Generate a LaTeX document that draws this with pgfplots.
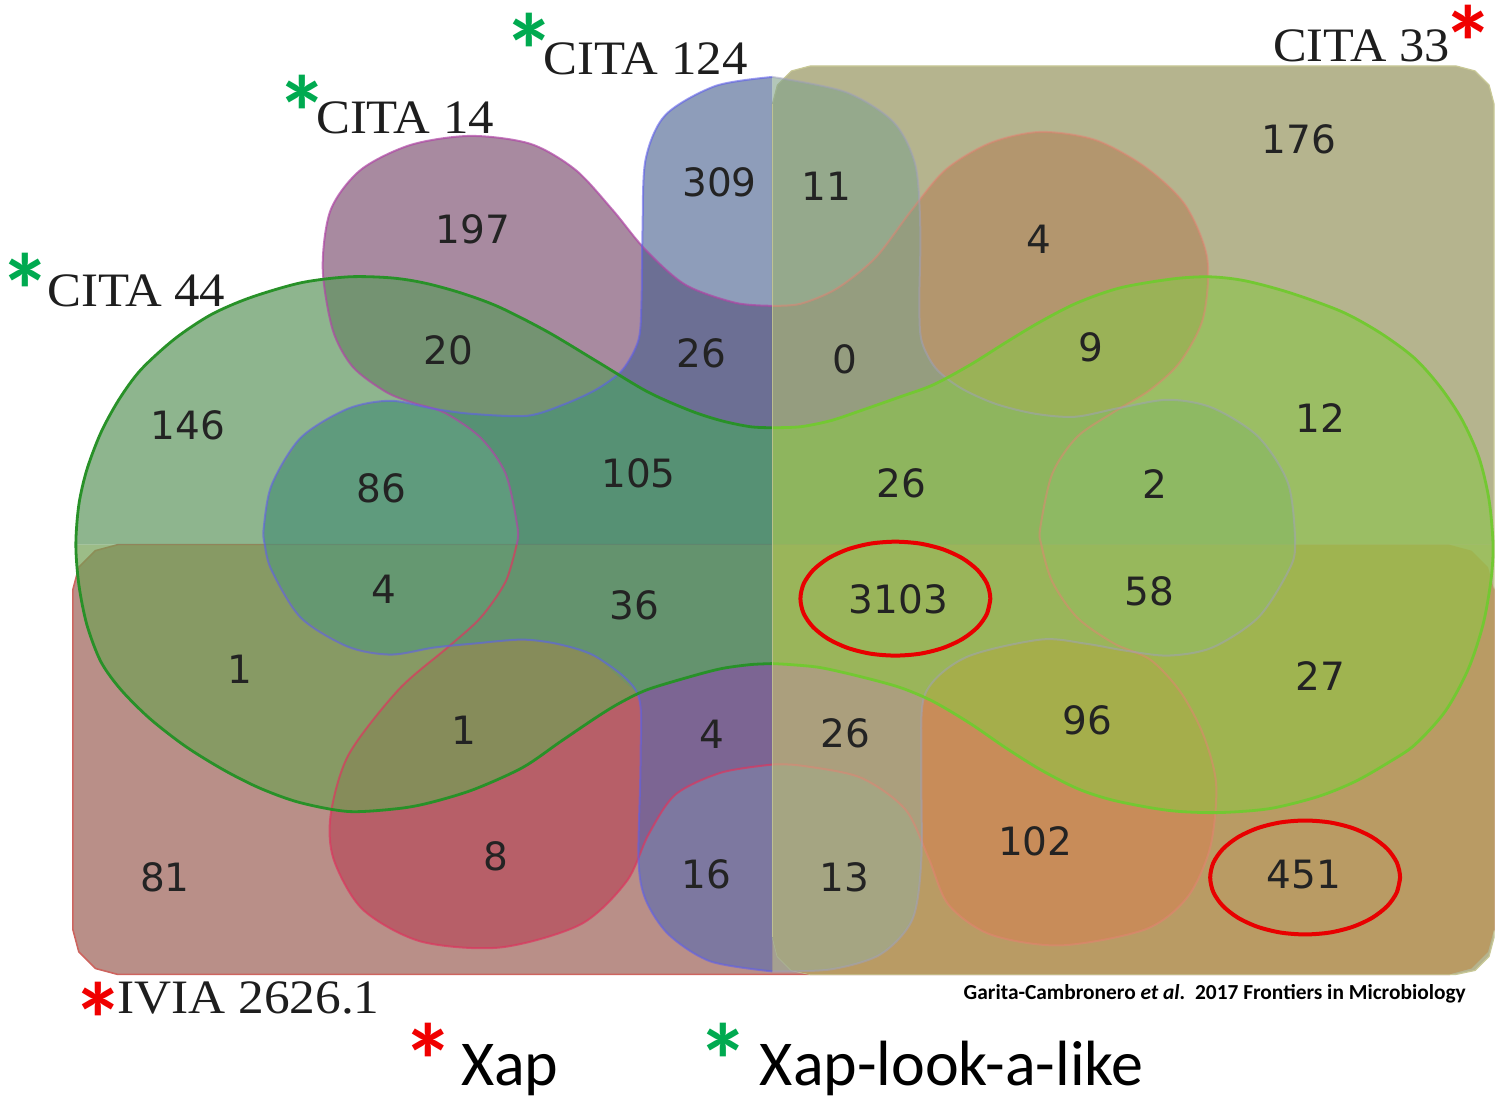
\documentclass[border=0pt]{standalone}
\usepackage{fontspec}
\usepackage{pgfplots}
\pgfplotsset{compat=1.18}
\setmainfont{Liberation Serif}
\newfontfamily\numfont{DejaVu Sans}
\newfontfamily\calib{Carlito}
\definecolor{Ecol}{RGB}{185,143,136}
\definecolor{Dcol}{RGB}{181,180,142}
\definecolor{DEcol}{RGB}{185,155,100}
\definecolor{Eedge}{RGB}{205,100,95}
\definecolor{Dedge}{RGB}{200,200,150}
\definecolor{BTL}{RGB}{110,60,97}
\definecolor{BTR}{RGB}{179,130,89}
\definecolor{BBL}{RGB}{182,63,84}
\definecolor{BBR}{RGB}{210,130,83}
\definecolor{CTL}{RGB}{68,93,140}
\definecolor{CTR}{RGB}{129,163,139}
\definecolor{CBL}{RGB}{85,105,176}
\definecolor{CBR}{RGB}{152,172,150}
\definecolor{ATL}{RGB}{95,151,95}
\definecolor{ATR}{RGB}{138,197,72}
\definecolor{ABL}{RGB}{114,160,85}
\definecolor{ABR}{RGB}{143,197,67}
\definecolor{ACteal}{RGB}{40,170,140}
\definecolor{Aedge}{RGB}{40,145,40}
\definecolor{AedgeR}{RGB}{115,200,50}
\definecolor{BedgeTL}{RGB}{175,70,165}
\definecolor{BedgeBL}{RGB}{220,55,95}
\definecolor{BedgeR}{RGB}{230,130,115}
\definecolor{CedgeL}{RGB}{95,95,235}
\definecolor{CedgeR}{RGB}{160,160,190}
\definecolor{numcol}{RGB}{35,35,35}
\definecolor{lblcol}{RGB}{30,30,30}
\definecolor{agreen}{RGB}{0,170,80}
\definecolor{ared}{RGB}{240,0,0}
\definecolor{ringred}{RGB}{232,0,0}
\newcommand{\nm}[3]{\node[font=\numfont\fontsize{19.5}{20}\selectfont, text=numcol, inner sep=0pt] at (axis cs:#1,#2) {#3};}
% asterisk: node centre placed 21 units below the glyph centre
\newcommand{\astk}[3]{\node[font=\calib\bfseries\fontsize{52}{52}\selectfont, text=#3, inner sep=0pt, anchor=center] at (axis cs:#1,#2) {*};}
\begin{document}
\begin{tikzpicture}
\begin{axis}[scale only axis, width=747.5pt, height=550.5pt,
  xmin=0, xmax=1495, ymin=0, ymax=1101, y dir=reverse, hide axis, clip=false]
% background
\addplot[draw=none, fill=white] coordinates {(0,0) (1495,0) (1495,1101) (0,1101)};
% IVIA 2626.1 (E)
\addplot[draw=Eedge, line width=0.8pt, fill=Ecol] coordinates {(72,590) (78,567.5) (94.5,551) (117,545) (1449,545) (1471.5,551) (1488,567.5) (1494,590) (1494,930) (1488,952.5) (1471.5,969) (1449,975) (117,975) (94.5,969) (78,952.5) (72,930) (72,590)};
% CITA 33 (D)
\addplot[draw=Dedge, line width=0.6pt, fill=Dcol] coordinates {(772,104) (777,85) (791,71) (810,66) (1456,66) (1475,71) (1489,85) (1494,104) (1494,938) (1489,957) (1475,971) (1456,975) (810,975) (791,971) (777,957) (772,938) (772,104)};
% D and E
\addplot[draw=none, fill=DEcol] coordinates {(772,545) (1449,545) (1471.5,551) (1488,567.5) (1494,590) (1494,930) (1488,952.5) (1471.5,969) (1449,975) (810,975) (791,971) (777,957) (772,938)};
% CITA 14 (B)
\addplot[smooth, draw=none, fill=BTL, fill opacity=0.6] coordinates {(516,545) (517,528) (505,474) (480,438) (444,413) (412,403) (385,392) (352,367) (332,330) (322,268) (330,210) (360,170) (410,145) (470,136) (530,144) (575,170) (612,210) (645,250) (685,285) (735,303) (772,306)} -- (772,545) -- cycle;
\addplot[smooth, draw=none, fill=BTR, fill opacity=0.6] coordinates {(772,306) (800,304) (836,289) (875,258) (910,212) (945,170) (990,143) (1040,132) (1095,140) (1145,167) (1185,205) (1207,258) (1203,318) (1180,362) (1150,390) (1114,412) (1077,437) (1052,474) (1040,528) (1041,545)} -- (772,545) -- cycle;
\addplot[smooth, draw=none, fill=BBR, fill opacity=0.6] coordinates {(1041,545) (1052,582) (1077,618) (1114,644) (1150,660) (1180,692) (1203,735) (1216,785) (1210,848) (1187,898) (1145,930) (1060,946) (990,935) (948,905) (928,858) (905,810) (860,778) (800,766) (772,765)} -- (772,545) -- cycle;
\addplot[smooth, draw=none, fill=BBL, fill opacity=0.6] coordinates {(772,765) (721,773) (675,795) (648,835) (626,882) (580,925) (500,948) (420,942) (362,910) (333,860) (330,815) (348,755) (398,690) (448,647) (480,618) (505,582) (516,545)} -- (772,545) -- cycle;
% CITA 124 (C)
\addplot[smooth, draw=none, fill=CTL, fill opacity=0.6] coordinates {(264,545) (263,528) (271,485) (300,438) (347,409) (390,401) (433,409) (470,414) (527,416) (565,404) (597,389) (622,370) (638,340) (641,300) (642,230) (645,160) (665,115) (715,86) (772,77)} -- (772,545) -- cycle;
\addplot[smooth, draw=none, fill=CTR, fill opacity=0.6] coordinates {(772,77) (845,92) (893,122) (915,165) (920,230) (919,300) (921,340) (935,368) (960,388) (995,404) (1035,414) (1075,417) (1120,408) (1168,400) (1212,408) (1258,437) (1288,484) (1295,545)} -- (772,545) -- cycle;
\addplot[smooth, draw=none, fill=CBR, fill opacity=0.6] coordinates {(1295,545) (1288,572) (1258,618) (1212,648) (1168,656) (1125,651) (1085,644) (1040,640) (965,658) (925,694) (921,760) (921,860) (912,920) (880,955) (830,970) (772,972)} -- (772,545) -- cycle;
\addplot[smooth, draw=none, fill=CBL, fill opacity=0.6] coordinates {(772,972) (710,962) (668,935) (645,900) (638,860) (640,760) (637,694) (597,658) (560,645) (522,640) (473,644) (433,648) (390,655) (347,647) (300,618) (271,571) (264,545)} -- (772,545) -- cycle;
% CITA 44 (A)
\addplot[smooth, draw=none, fill=ATL, fill opacity=0.7] coordinates {(75,545) (78,505) (86,470) (100,433) (118,400) (140,370) (174,339) (210,315) (249,298) (300,283) (348,277) (390,278) (423,283) (460,293) (498,307) (547,332) (597,362) (647,392) (690,411) (721,421) (750,427) (772,428)} -- (772,545) -- cycle;
\addplot[smooth, draw=none, fill=ATR, fill opacity=0.6] coordinates {(772,428) (800,427) (830,421) (860,411) (900,397) (933,385) (970,365) (1005,343) (1040,322) (1077,303) (1120,288) (1173,279) (1210,277) (1245,281) (1290,293) (1342,312) (1380,333) (1414,358) (1440,387) (1462,420) (1479,458) (1489,500) (1493,545)} -- (772,545) -- cycle;
\addplot[smooth, draw=none, fill=ABR, fill opacity=0.6] coordinates {(1493,545) (1491,580) (1483,625) (1468,670) (1445,712) (1415,745) (1390,762) (1355,782) (1318,797) (1270,809) (1221,813) (1180,812) (1149,808) (1110,800) (1077,789) (1040,770) (1005,748) (970,724) (933,702) (900,688) (860,677) (820,668) (790,665) (772,664)} -- (772,545) -- cycle;
\addplot[smooth, draw=none, fill=ABL, fill opacity=0.7] coordinates {(772,664) (750,665) (721,669) (690,677) (647,690) (620,703) (597,717) (560,742) (522,768) (473,790) (430,803) (398,809) (348,812) (299,803) (260,789) (224,771) (185,747) (149,719) (120,690) (100,662) (86,625) (78,585) (75,545)} -- (772,545) -- cycle;
% teal tint where CITA 44 and CITA 124 overlap (left half)
\addplot[draw=none, fill=ACteal, fill opacity=0.2] coordinates {(772,428) (750,427) (721,421) (690,411) (647,392) (617,374) (597,389) (565,404) (527,416) (470,414) (433,409) (390,401) (347,409) (300,438) (271,485) (263,528) (264,545) (271,571) (300,618) (347,647) (390,655) (433,648) (473,644) (522,640) (560,645) (597,658) (637,694) (647,690) (690,677) (721,669) (750,665) (772,664)};
% outlines B
\addplot[smooth, draw=BedgeTL, line width=1pt, draw opacity=0.7] coordinates {(516,545) (517,528) (505,474) (480,438) (444,413) (412,403) (385,392) (352,367) (332,330) (322,268) (330,210) (360,170) (410,145) (470,136) (530,144) (575,170) (612,210) (645,250) (685,285) (735,303) (772,306)};
\addplot[smooth, draw=BedgeR, line width=1pt, draw opacity=0.5] coordinates {(772,306) (800,304) (836,289) (875,258) (910,212) (945,170) (990,143) (1040,132) (1095,140) (1145,167) (1185,205) (1207,258) (1203,318) (1180,362) (1150,390) (1114,412) (1077,437) (1052,474) (1040,528) (1041,545) (1052,582) (1077,618) (1114,644) (1150,660) (1180,692) (1203,735) (1216,785) (1210,848) (1187,898) (1145,930) (1060,946) (990,935) (948,905) (928,858) (905,810) (860,778) (800,766) (772,765)};
\addplot[smooth, draw=BedgeBL, line width=1pt, draw opacity=0.7] coordinates {(772,765) (721,773) (675,795) (648,835) (626,882) (580,925) (500,948) (420,942) (362,910) (333,860) (330,815) (348,755) (398,690) (448,647) (480,618) (505,582) (516,545)};
% outlines C
\addplot[smooth, draw=CedgeL, line width=1pt, draw opacity=0.6] coordinates {(772,972) (710,962) (668,935) (645,900) (638,860) (640,760) (637,694) (597,658) (560,645) (522,640) (473,644) (433,648) (390,655) (347,647) (300,618) (271,571) (264,545) (263,528) (271,485) (300,438) (347,409) (390,401) (433,409) (470,414) (527,416) (565,404) (597,389) (622,370) (638,340) (641,300) (642,230) (645,160) (665,115) (715,86) (772,77)};
\addplot[smooth, draw=CedgeR, line width=1pt, draw opacity=0.5] coordinates {(772,77) (845,92) (893,122) (915,165) (920,230) (919,300) (921,340) (935,368) (960,388) (995,404) (1035,414) (1075,417) (1120,408) (1168,400) (1212,408) (1258,437) (1288,484) (1295,545) (1288,572) (1258,618) (1212,648) (1168,656) (1125,651) (1085,644) (1040,640) (965,658) (925,694) (921,760) (921,860) (912,920) (880,955) (830,970) (772,972)};
% outlines A
\addplot[smooth, draw=Aedge, line width=1.4pt] coordinates {(772,664) (750,665) (721,669) (690,677) (647,690) (620,703) (597,717) (560,742) (522,768) (473,790) (430,803) (398,809) (348,812) (299,803) (260,789) (224,771) (185,747) (149,719) (120,690) (100,662) (86,625) (78,585) (75,545) (78,505) (86,470) (100,433) (118,400) (140,370) (174,339) (210,315) (249,298) (300,283) (348,277) (390,278) (423,283) (460,293) (498,307) (547,332) (597,362) (647,392) (690,411) (721,421) (750,427) (772,428)};
\addplot[smooth, draw=AedgeR, line width=1.4pt] coordinates {(772,428) (800,427) (830,421) (860,411) (900,397) (933,385) (970,365) (1005,343) (1040,322) (1077,303) (1120,288) (1173,279) (1210,277) (1245,281) (1290,293) (1342,312) (1380,333) (1414,358) (1440,387) (1462,420) (1479,458) (1489,500) (1493,545) (1491,580) (1483,625) (1468,670) (1445,712) (1415,745) (1390,762) (1355,782) (1318,797) (1270,809) (1221,813) (1180,812) (1149,808) (1110,800) (1077,789) (1040,770) (1005,748) (970,724) (933,702) (900,688) (860,677) (820,668) (790,665) (772,664)};
% D left edge
\addplot[draw=Dedge, line width=0.8pt, draw opacity=0.8] coordinates {(772,104) (772,938)};
% red rings
\addplot[smooth, draw=ringred, line width=2pt] coordinates {(990,599) (986.8,613.8) (977.3,627.5) (962.2,639.3) (942.5,648.4) (919.6,654.1) (895,656) (870.4,654.1) (847.5,648.4) (827.8,639.3) (812.7,627.5) (803.2,613.8) (800,599) (803.2,584.2) (812.7,570.5) (827.8,558.7) (847.5,549.6) (870.4,543.9) (895,542) (919.6,543.9) (942.5,549.6) (962.2,558.7) (977.3,570.5) (986.8,584.2) (990,599) (986.8,613.8)};
\addplot[smooth, draw=ringred, line width=2pt] coordinates {(1400,878) (1396.8,892.8) (1387.3,906.5) (1372.2,918.3) (1352.5,927.4) (1329.6,933.1) (1305,935) (1280.4,933.1) (1257.5,927.4) (1237.8,918.3) (1222.7,906.5) (1213.2,892.8) (1210,878) (1213.2,863.2) (1222.7,849.5) (1237.8,837.7) (1257.5,828.6) (1280.4,822.9) (1305,821) (1329.6,822.9) (1352.5,828.6) (1372.2,837.7) (1387.3,849.5) (1396.8,863.2) (1400,878) (1396.8,892.8)};
% region counts
\nm{472}{229}{197}
\nm{719}{182}{309}
\nm{826}{186}{11}
\nm{1299}{139}{176}
\nm{1039}{239}{4}
\nm{448}{351}{20}
\nm{701}{354}{26}
\nm{844}{360}{0}
\nm{1091}{348}{9}
\nm{187}{426}{146}
\nm{1320}{418}{12}
\nm{381}{489}{86}
\nm{638}{474}{105}
\nm{901}{484}{26}
\nm{1155}{484}{2}
\nm{383}{590}{4}
\nm{634}{606}{36}
\nm{898}{600}{3103}
\nm{1149}{592}{58}
\nm{239}{670}{1}
\nm{1320}{676}{27}
\nm{463}{731}{1}
\nm{711}{735}{4}
\nm{845}{734}{26}
\nm{1087}{721}{96}
\nm{1035}{842}{102}
\nm{164}{878}{81}
\nm{495}{857}{8}
\nm{706}{875}{16}
\nm{844}{878}{13}
\nm{1304}{875}{451}
% set names
\node[anchor=base west, inner sep=0pt, text=lblcol, font=\fontsize{24}{24}\selectfont] at (axis cs:543,75) {\scalebox{1.06}[1]{CITA 124}};
\node[anchor=base west, inner sep=0pt, text=lblcol, font=\fontsize{24}{24}\selectfont] at (axis cs:315,134) {\scalebox{1.06}[1]{CITA 14}};
\node[anchor=base west, inner sep=0pt, text=lblcol, font=\fontsize{24}{24}\selectfont] at (axis cs:46,307) {\scalebox{1.06}[1]{CITA 44}};
\node[anchor=base east, inner sep=0pt, text=lblcol, font=\fontsize{24}{24}\selectfont] at (axis cs:1450,62) {\scalebox{1.05}[1]{CITA 33}};
\node[anchor=base west, inner sep=0pt, text=lblcol, font=\fontsize{24}{24}\selectfont] at (axis cs:116,1014) {\scalebox{1.07}[1]{IVIA 2626.1}};
% asterisks
\astk{529}{50}{agreen}
\astk{302}{112}{agreen}
\astk{25}{290}{agreen}
\astk{1468}{42}{ared}
\astk{98}{1020}{ared}
\astk{428}{1061}{ared}
\astk{723}{1061}{agreen}
% legend and source
\node[anchor=base west, inner sep=0pt, font=\calib\fontsize{32}{32}\selectfont] at (axis cs:460,1086) {Xap};
\node[anchor=base west, inner sep=0pt, font=\calib\fontsize{32}{32}\selectfont] at (axis cs:759,1086) {Xap-look-a-like};
\node[anchor=base west, inner sep=0pt, font=\calib\bfseries\fontsize{10.7}{11}\selectfont] at (axis cs:963,1000) {Garita-Cambronero \textit{et al.}\ \ 2017 Frontiers in Microbiology};
\end{axis}
\end{tikzpicture}
\end{document}
